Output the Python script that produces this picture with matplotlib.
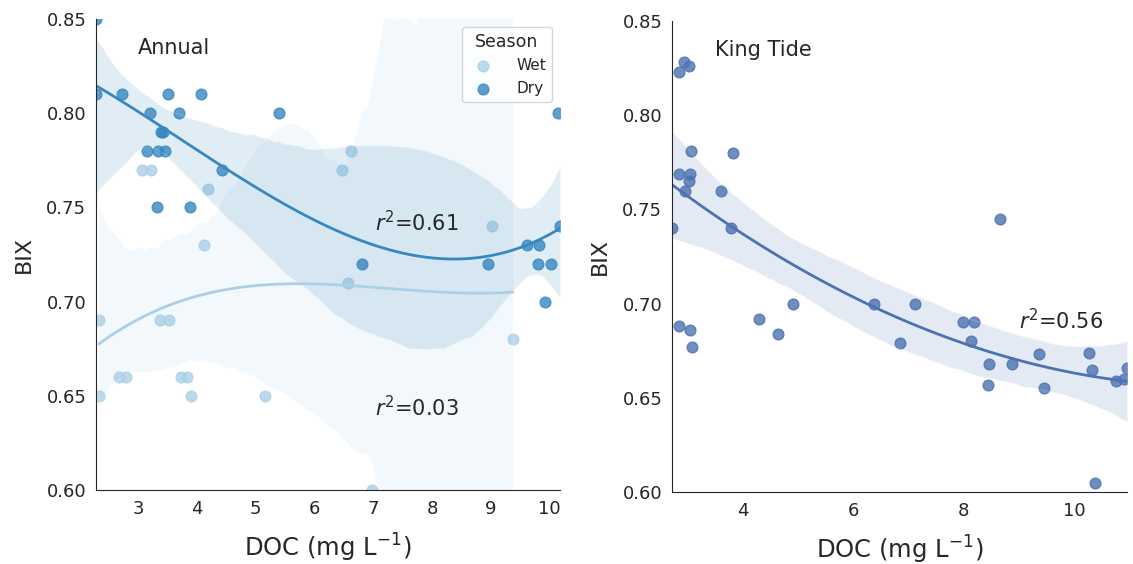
import numpy as np
import matplotlib.pyplot as plt
import seaborn as sns

# Annual samples, split by season
wet_doc = [2.33, 2.33, 2.67, 2.79, 3.06, 3.21, 3.37, 3.52, 3.72, 3.83, 3.89, 4.12,
           4.19, 5.16, 6.47, 6.57, 6.63, 6.98, 9.03, 9.38]
wet_bix = [0.69, 0.65, 0.66, 0.66, 0.77, 0.77, 0.69, 0.69, 0.66, 0.66, 0.65, 0.73,
           0.76, 0.65, 0.77, 0.71, 0.78, 0.60, 0.74, 0.68]

dry_doc = [2.28, 2.28, 2.72, 3.50, 4.06, 3.20, 3.70, 5.40, 10.14, 3.38, 3.42, 3.15,
           3.34, 3.45, 4.43, 3.32, 3.88, 10.18, 9.62, 9.83, 6.81, 8.96, 9.81, 10.03, 9.93]
dry_bix = [0.85, 0.81, 0.81, 0.81, 0.81, 0.80, 0.80, 0.80, 0.80, 0.79, 0.79, 0.78,
           0.78, 0.78, 0.77, 0.75, 0.75, 0.74, 0.73, 0.73, 0.72, 0.72, 0.72, 0.72, 0.70]

# King tide sampling
king_doc = [2.85, 2.93, 3.02, 3.07, 3.82, 2.85, 3.04, 3.02, 2.95, 3.60, 2.72, 3.78,
            2.85, 3.04, 3.09, 4.29, 4.64, 4.91, 6.38, 7.11, 6.84, 7.98, 8.18, 8.13,
            8.45, 8.87, 8.44, 9.36, 9.44, 10.27, 10.31, 10.76, 10.89, 10.95, 10.38, 8.65]
king_bix = [0.823, 0.828, 0.826, 0.781, 0.780, 0.769, 0.769, 0.765, 0.760, 0.760, 0.740, 0.740,
            0.688, 0.686, 0.677, 0.692, 0.684, 0.700, 0.700, 0.700, 0.679, 0.690, 0.690, 0.680,
            0.668, 0.668, 0.657, 0.673, 0.655, 0.674, 0.665, 0.659, 0.660, 0.666, 0.605, 0.745]

yticks = [0.60, 0.65, 0.70, 0.75, 0.80, 0.85]

sns.set_style("white")
plt.rcParams['font.family'] = ['DejaVu Sans']

fig = plt.figure(figsize=(11.33, 5.64), dpi=100)
ax1 = fig.add_axes([96 / 1133, 74 / 564, 464 / 1133, 471 / 564])
ax2 = fig.add_axes([672 / 1133, 72 / 564, 455 / 1133, 471 / 564])

blues = sns.color_palette("Blues", 2)
sns.regplot(x=wet_doc, y=wet_bix, order=3, ax=ax1, color=blues[0], seed=3,
            label="Wet", scatter_kws={"s": 60}, line_kws={"lw": 2})
sns.regplot(x=dry_doc, y=dry_bix, order=3, ax=ax1, color=blues[1], seed=3,
            label="Dry", scatter_kws={"s": 60}, line_kws={"lw": 2})

sns.regplot(x=king_doc, y=king_bix, order=2, ax=ax2, color="#4c72b0", seed=3,
            scatter_kws={"s": 60}, line_kws={"lw": 2})

all_doc = wet_doc + dry_doc
ax1.set_xlim(min(all_doc), max(all_doc))
ax1.set_xticks(range(3, 11))
ax2.set_xlim(min(king_doc), max(king_doc))
ax2.set_xticks([4, 6, 8, 10])

for ax in (ax1, ax2):
    ax.set_ylim(0.60, 0.85)
    ax.set_yticks(yticks)
    ax.set_yticklabels(["%.2f" % v for v in yticks])
    ax.tick_params(labelsize=13, colors=".15")
    ax.set_xlabel("DOC (mg L$^{-1}$)", fontsize=17.5, labelpad=10)
    ax.set_ylabel("BIX", fontsize=16, labelpad=9)
sns.despine(fig=fig)

ax1.text(0.09, 0.938, "Annual", transform=ax1.transAxes, fontsize=15, va="center")
ax2.text(0.095, 0.938, "King Tide", transform=ax2.transAxes, fontsize=15, va="center")

ax1.text(7.03, 0.742, "$r^2$=0.61", fontsize=15, va="center")
ax1.text(7.03, 0.6435, "$r^2$=0.03", fontsize=15, va="center")
ax2.text(9.0, 0.691, "$r^2$=0.56", fontsize=15, va="center")

ax1.legend(title="Season", loc="upper right", fontsize=11, title_fontsize=12.5,
           handletextpad=1.2)

fig.savefig("out.png", dpi=100)
